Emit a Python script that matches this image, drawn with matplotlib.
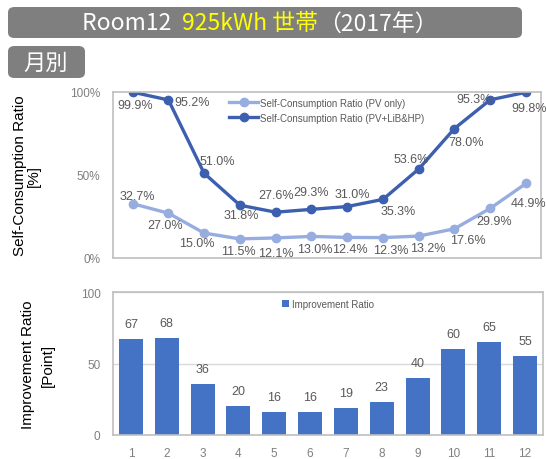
import matplotlib
matplotlib.use("Agg")
import matplotlib.pyplot as plt
from matplotlib import font_manager
from matplotlib.patches import FancyBboxPatch

# data
months = [1, 2, 3, 4, 5, 6, 7, 8, 9, 10, 11, 12]
pv_only = [32.7, 27.0, 15.0, 11.5, 12.1, 13.0, 12.4, 12.3, 13.2, 17.6, 29.9, 44.9]
pv_lib_hp = [99.9, 95.2, 51.0, 31.8, 27.6, 29.3, 31.0, 35.3, 53.6, 78.0, 95.3, 99.8]
improvement = [67, 68, 36, 20, 16, 16, 19, 23, 40, 60, 65, 55]

# label offsets in pixels (dx, dy)
off_dark = [(3, -13), (24, -2), (13, 12), (1, -10), (0, 17), (0, 17), (5, 13),
            (15, -12), (-8, 10), (12, -13), (-16, 1), (3, -16)]
off_light = [(5, 8), (-3, -12), (-7, -10), (-2, -12), (0, -15), (3, -13), (3, -12),
             (8, -12), (9, -12), (13, -11), (4, -13), (3, -20)]

names = {f.name for f in font_manager.fontManager.ttflist}
narrow = "Liberation Sans Narrow" if "Liberation Sans Narrow" in names else "Liberation Sans"
plt.rcParams['font.family'] = [narrow, 'DejaVu Sans']
jp = ['Noto Sans CJK JP', 'DejaVu Sans']

dark = "#3C5FAF"
light = "#97ADDF"
barc = "#4472C4"
grey_txt = "#595959"
frame = "#BFBFBF"

fig = plt.figure(figsize=(5.46, 4.6), dpi=100)

# title boxes
box = FancyBboxPatch((8 / 546, 1 - 39 / 460), 514 / 546, 31 / 460,
                     boxstyle="round,pad=0,rounding_size=0.012",
                     transform=fig.transFigure, fc="#7F7F7F", ec="none")
fig.add_artist(box)
box2 = FancyBboxPatch((8 / 546, 1 - 79 / 460), 77 / 546, 32 / 460,
                      boxstyle="round,pad=0,rounding_size=0.012",
                      transform=fig.transFigure, fc="#7F7F7F", ec="none")
fig.add_artist(box2)
fig.text(46 / 546, 1 - 63 / 460, "月別", family=jp, fontsize=16, color="white",
         ha="center", va="center")

parts = [("Room12  ", "white"), ("925kWh 世帯", "#FFFF00"), ("（2017年）", "white")]
fig.canvas.draw()
r = fig.canvas.get_renderer()
widths = []
txts = []
for s, c in parts:
    t = fig.text(0, 1 - 24 / 460, s, family=jp, fontsize=16.5, color=c, va="center")
    widths.append(t.get_window_extent(r).width)
    txts.append(t)
x = 260 - sum(widths) / 2
for t, w in zip(txts, widths):
    t.set_x(x / 546)
    x += w

# top chart
ax1 = fig.add_axes([113 / 546, 1 - 259 / 460, 428 / 546, 166 / 460])
ax1.plot(months, pv_only, color=light, lw=2.4, marker="o", ms=6,
         label="Self-Consumption Ratio (PV only)")
ax1.plot(months, pv_lib_hp, color=dark, lw=2.4, marker="o", ms=6,
         label="Self-Consumption Ratio (PV+LiB&HP)")
for m, v, (dx, dy) in zip(months, pv_lib_hp, off_dark):
    ax1.annotate(f"{v:.1f}%", (m, v), xytext=(dx, dy), textcoords="offset pixels",
                 ha="center", va="center", fontsize=9, color=grey_txt)
for m, v, (dx, dy) in zip(months, pv_only, off_light):
    ax1.annotate(f"{v:.1f}%", (m, v), xytext=(dx, dy), textcoords="offset pixels",
                 ha="center", va="center", fontsize=9, color=grey_txt)
ax1.set_xlim(0.45, 12.42)
ax1.set_ylim(0, 100)
ax1.set_yticks([0, 50, 100])
ax1.set_yticklabels(["0%", "50%", "100%"])
ax1.set_xticks([])
ax1.tick_params(axis="y", length=0, labelsize=8.5, labelcolor="#7F7F7F", pad=9)
for sp in ax1.spines.values():
    sp.set_color(frame)
    sp.set_linewidth(1.2)
leg = ax1.legend(loc="upper center", bbox_to_anchor=(0.5, 1.0), frameon=False,
                 fontsize=7, handlelength=3, labelcolor=grey_txt, borderaxespad=0.2,
                 handletextpad=0.2)
for ln in leg.get_lines():
    ln.set_markersize(6)

# bottom chart
ax2 = fig.add_axes([113 / 546, 1 - 436 / 460, 430 / 546, 143 / 460])
bars = ax2.bar(months, improvement, width=0.67, color=barc, label="Improvement Ratio",
               zorder=2)
for m, v in zip(months, improvement):
    ax2.annotate(f"{v}", (m, v), xytext=(0, 15), textcoords="offset pixels",
                 ha="center", va="center", fontsize=9, color=grey_txt)
ax2.set_xlim(0.5, 12.5)
ax2.set_ylim(0, 100)
ax2.set_yticks([0, 50, 100])
ax2.set_xticks(months)
ax2.yaxis.grid(True, color="#D9D9D9", lw=1, zorder=0)
ax2.tick_params(axis="y", length=0, labelsize=8.5, labelcolor="#7F7F7F", pad=9)
ax2.tick_params(axis="x", length=0, labelsize=8.5, labelcolor="#7F7F7F", pad=9)
for sp in ax2.spines.values():
    sp.set_color(frame)
    sp.set_linewidth(1.2)
ax2.legend(loc="upper center", bbox_to_anchor=(0.5, 1.0), frameon=False, fontsize=7,
           labelcolor=grey_txt, handlelength=0.7, handleheight=0.7, handletextpad=0.3,
           borderaxespad=0.3)

# y labels
fig.text(27 / 546, 1 - 176 / 460, "Self-Consumption Ratio\n[%]", rotation=90,
         ha="center", va="center", fontsize=11, linespacing=0.95, color="black")
fig.text(38 / 546, 1 - 365 / 460, "Improvement Ratio\n[Point]", rotation=90,
         ha="center", va="center", fontsize=11, linespacing=1.5, color="black")

fig.savefig("out.png", dpi=100)
